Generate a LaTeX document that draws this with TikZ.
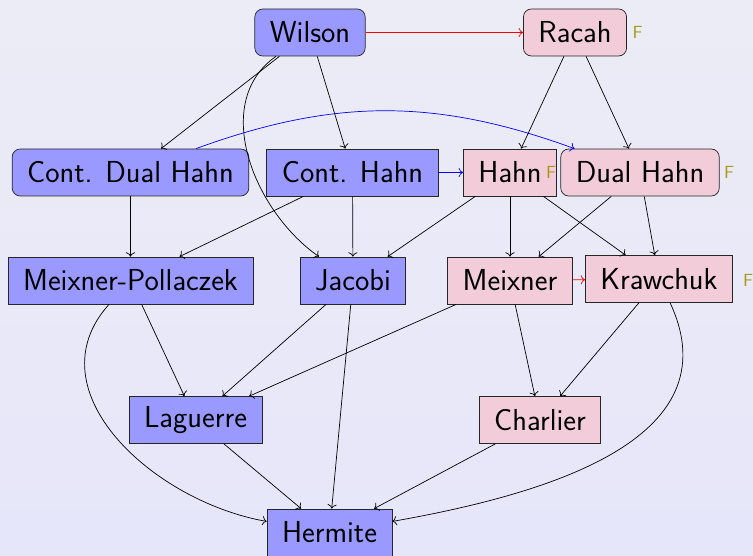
\documentclass[tikz,border=0pt]{standalone}
\usepackage{fontspec}
\usepackage{tikz}
\usetikzlibrary{arrows.meta}

\definecolor{bgtop}{RGB}{236,236,246}
\definecolor{bgbot}{RGB}{230,230,250}
\definecolor{fmark}{RGB}{165,155,25}

\begin{document}
\begin{tikzpicture}[font=\sffamily\fontsize{17.28}{21}\selectfont,
    contfam/.style={draw=black!85, fill=blue!40, inner xsep=0.3cm, minimum height=0.94cm},
    discfam/.style={draw=black!85, fill=purple!20, inner xsep=0.3cm, minimum height=0.94cm},
    roundbox/.style={rounded corners=0.16cm},
    fmarker/.style={text=fmark, inner sep=0pt, font=\sffamily\fontsize{10}{12}\selectfont},
  ]
  % background, fixes the page size too
  \shade[top color=bgtop, bottom color=bgbot] (0,0) rectangle (15.06,11.12);
  \useasboundingbox (0,0) rectangle (15.06,11.12);

  % top row
  \node[contfam, roundbox] (wilson) at (6.2,10.47) {Wilson};
  \node[discfam, roundbox] (racah)  at (11.5,10.47) {Racah};

  % second row
  \node[contfam, roundbox] (cdhahn) at (2.61,7.67) {Cont. Dual Hahn};
  \node[contfam] (chahn)  at (7.05,7.67) {Cont. Hahn};
  \node[discfam] (hahn)   at (10.2,7.67) {Hahn};
  \node[discfam, roundbox] (dhahn) at (12.8,7.67) {Dual Hahn};

  % third row
  \node[contfam] (mpoll)    at (2.61,5.51) {Meixner-Pollaczek};
  \node[contfam] (jacobi)   at (7.06,5.51) {Jacobi};
  \node[discfam] (meixner)  at (10.2,5.51) {Meixner};
  \node[discfam] (krawchuk) at (13.18,5.54) {Krawchuk};

  % fourth row and bottom
  \node[contfam] (laguerre) at (3.91,2.72) {Laguerre};
  \node[discfam] (charlier) at (10.8,2.72) {Charlier};
  \node[contfam] (hermite)  at (6.59,0.47) {Hermite};

  % F markers
  \node[fmarker] (fracah) at (12.75,10.48) {F};
  \node[fmarker] (fhahn)  at (11.02,7.68) {F};
  \node[fmarker] (fdhahn) at (14.58,7.68) {F};
  \node[fmarker] (fkraw)  at (14.96,5.52) {F};

  % limits
  \draw[->, red]  (wilson) -- (racah);
  \draw[->, blue] (chahn) -- (hahn);
  \draw[->, blue] (cdhahn) to[bend left=20] (dhahn);
  \draw[->, red]  (meixner) -- (krawchuk);

  \draw[->] (wilson) -- (cdhahn);
  \draw[->] (wilson) -- (chahn);
  \draw[->] (wilson) to[out=215, in=145] (jacobi);
  \draw[->] (racah) -- (hahn);
  \draw[->] (racah) -- (dhahn);

  \draw[->] (cdhahn) -- (mpoll);
  \draw[->] (chahn) -- (mpoll);
  \draw[->] (chahn) -- (jacobi);
  \draw[->] (hahn) -- (jacobi);
  \draw[->] (hahn) -- (meixner);
  \draw[->] (hahn) -- (krawchuk);
  \draw[->] (dhahn) -- (meixner);
  \draw[->] (dhahn) -- (krawchuk);

  \draw[->] (mpoll) -- (laguerre);
  \draw[->] (mpoll) to[out=228, in=170, looseness=1.1] (hermite);
  \draw[->] (jacobi) -- (laguerre);
  \draw[->] (jacobi) -- (hermite);
  \draw[->] (meixner) -- (laguerre);
  \draw[->] (meixner) -- (charlier);
  \draw[->] (krawchuk) -- (charlier);
  \draw[->] (krawchuk) to[out=-65, in=10, looseness=1.1] (hermite);

  \draw[->] (laguerre) -- (hermite);
  \draw[->] (charlier) -- (hermite);
\end{tikzpicture}
\end{document}
